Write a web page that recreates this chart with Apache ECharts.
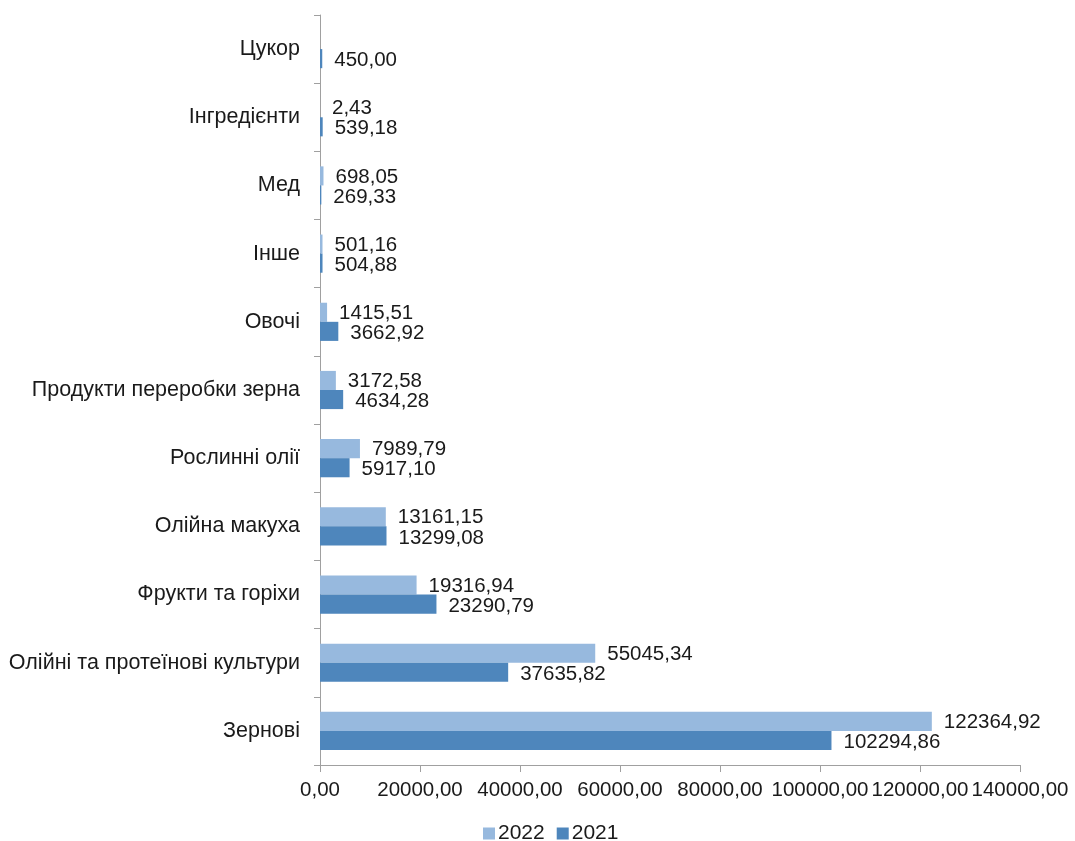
<!DOCTYPE html>
<html><head><meta charset="utf-8">
<script src="https://cdn.jsdelivr.net/npm/echarts@6/dist/echarts.min.js"></script>
<style>html,body{margin:0;padding:0;background:#fff}#c{width:1075px;height:841px}</style>
</head><body><div id="c"></div>
<script>
const categories = ['Цукор','Інгредієнти','Мед','Інше','Овочі','Продукти переробки зерна','Рослинні олії','Олійна макуха','Фрукти та горіхи','Олійні та протеїнові культури','Зернові'];
const values2022 = [null, 2.43, 698.05, 501.16, 1415.51, 3172.58, 7989.79, 13161.15, 19316.94, 55045.34, 122364.92];
const values2021 = [450.00, 539.18, 269.33, 504.88, 3662.92, 4634.28, 5917.10, 13299.08, 23290.79, 37635.82, 102294.86];
const fmt = v => Number(v).toFixed(2).replace('.', ',');
const chart = echarts.init(document.getElementById('c'));
const font = 'Liberation Sans';
const mkLbl = dy => ({show:true, position:'right', distance:12, offset:[0,dy], color:'#1a1a1a', fontSize:20.5, fontFamily:font,
  formatter: p => p.value == null ? '' : fmt(p.value)});
chart.setOption({
  animation:false,
  textStyle:{fontFamily:font},
  grid:{left:320, right:55, top:15, bottom:76, containLabel:false},
  legend:{top:818, left:478, itemWidth:12, itemHeight:12, itemGap:12, icon:'rect',
    textStyle:{fontSize:21, color:'#1a1a1a', fontFamily:font, padding:[0,0,0,-2]},
    data:['2022','2021']},
  xAxis:{type:'value', min:0, max:140000, interval:20000,
    axisLine:{show:true, lineStyle:{color:'#a0a0a0'}},
    axisTick:{show:true, length:7, lineStyle:{color:'#a0a0a0'}},
    splitLine:{show:false},
    axisLabel:{formatter:fmt, fontSize:20.5, color:'#1a1a1a', margin:15, fontFamily:font}},
  yAxis:{type:'category', inverse:true, data:categories,
    axisLine:{show:true, lineStyle:{color:'#a0a0a0'}},
    axisTick:{show:true, length:6, lineStyle:{color:'#a0a0a0'}},
    axisLabel:{fontSize:21.5, color:'#1a1a1a', margin:20, fontFamily:font, padding:[4,0,0,0]}},
  series:[
    {name:'2022', type:'bar', data:values2022, barGap:'0%', barCategoryGap:'44%',
      itemStyle:{color:'#97b9de'}, label:mkLbl(1)},
    {name:'2021', type:'bar', data:values2021, barGap:'0%', barCategoryGap:'44%',
      itemStyle:{color:'#4e86bc'}, label:mkLbl(2)}
  ]
});
</script></body></html>
